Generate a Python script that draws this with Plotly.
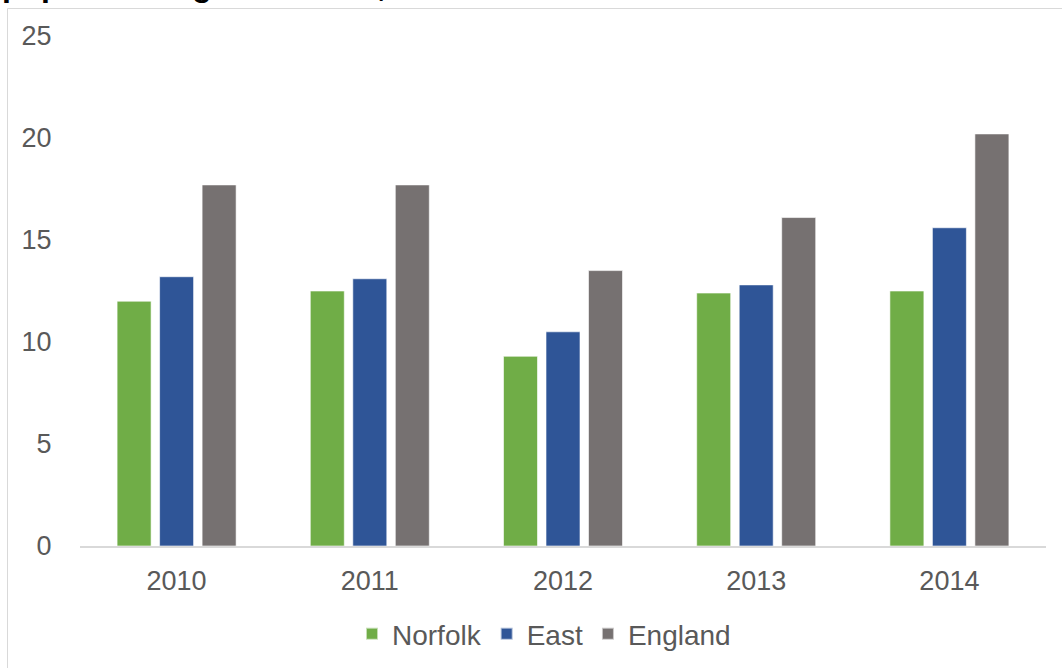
import plotly.graph_objects as go

years = ["2010", "2011", "2012", "2013", "2014"]
norfolk = [12.0, 12.5, 9.3, 12.4, 12.5]
east = [13.2, 13.1, 10.5, 12.8, 15.6]
england = [17.7, 17.7, 13.5, 16.1, 20.2]

series = [("Norfolk", norfolk, "#70AD47"), ("East", east, "#2F5597"), ("England", england, "#767171")]
title_text = "population aged 16 to 64, 2010 to 2014"

FONT = "Liberation Sans, Arial, sans-serif"
W, H = 1062, 668
L, R, T, B = 80, 16, 36, 122
pw, ph = W - L - R, H - T - B

fig = go.Figure()
for name, vals, col in series:
    fig.add_trace(go.Bar(x=years, y=vals, name=name, marker=dict(color=col, line=dict(color="rgba(255,255,255,0.6)", width=1))))

def px_x(x):
    return (x - L) / pw

def px_y(y):
    return (H - B - y) / ph

fig.update_layout(
    width=W, height=H,
    margin=dict(l=L, r=R, t=T, b=B, autoexpand=False),
    paper_bgcolor="white", plot_bgcolor="white",
    barmode="group", bargap=0.34, bargroupgap=0.2,
    font=dict(family=FONT, size=27, color="#595959"),
    showlegend=True,
    legend=dict(orientation="h", x=px_x(544), xanchor="center", y=px_y(634), yanchor="middle",
                font=dict(size=28, color="#595959"), itemsizing="constant", traceorder="normal",
                itemwidth=30),
    xaxis=dict(showline=True, linecolor="#d9d9d9", linewidth=1.5, ticks="outside", ticklen=10,
               tickcolor="rgba(0,0,0,0)", showgrid=False, tickfont=dict(size=27, color="#595959"),
               automargin=False),
    yaxis=dict(range=[0, 25], dtick=5, showgrid=False, zeroline=False, ticks="outside", ticklen=22,
               tickcolor="rgba(0,0,0,0)", tickfont=dict(size=27, color="#595959"), automargin=False),
    shapes=[
        dict(type="line", xref="paper", yref="paper", x0=px_x(7.5), x1=px_x(1062), y0=px_y(8.5), y1=px_y(8.5),
             line=dict(color="#d9d9d9", width=1)),
        dict(type="line", xref="paper", yref="paper", x0=px_x(7.5), x1=px_x(7.5), y0=px_y(8.5), y1=px_y(668),
             line=dict(color="#d9d9d9", width=1)),
    ],
    annotations=[
        dict(text=title_text, xref="paper", yref="paper", x=px_x(0), y=px_y(5), xanchor="left", yanchor="bottom",
             showarrow=False, font=dict(family=FONT, size=32, color="black", weight="bold"))
    ],
)

fig.write_html("out.html")
